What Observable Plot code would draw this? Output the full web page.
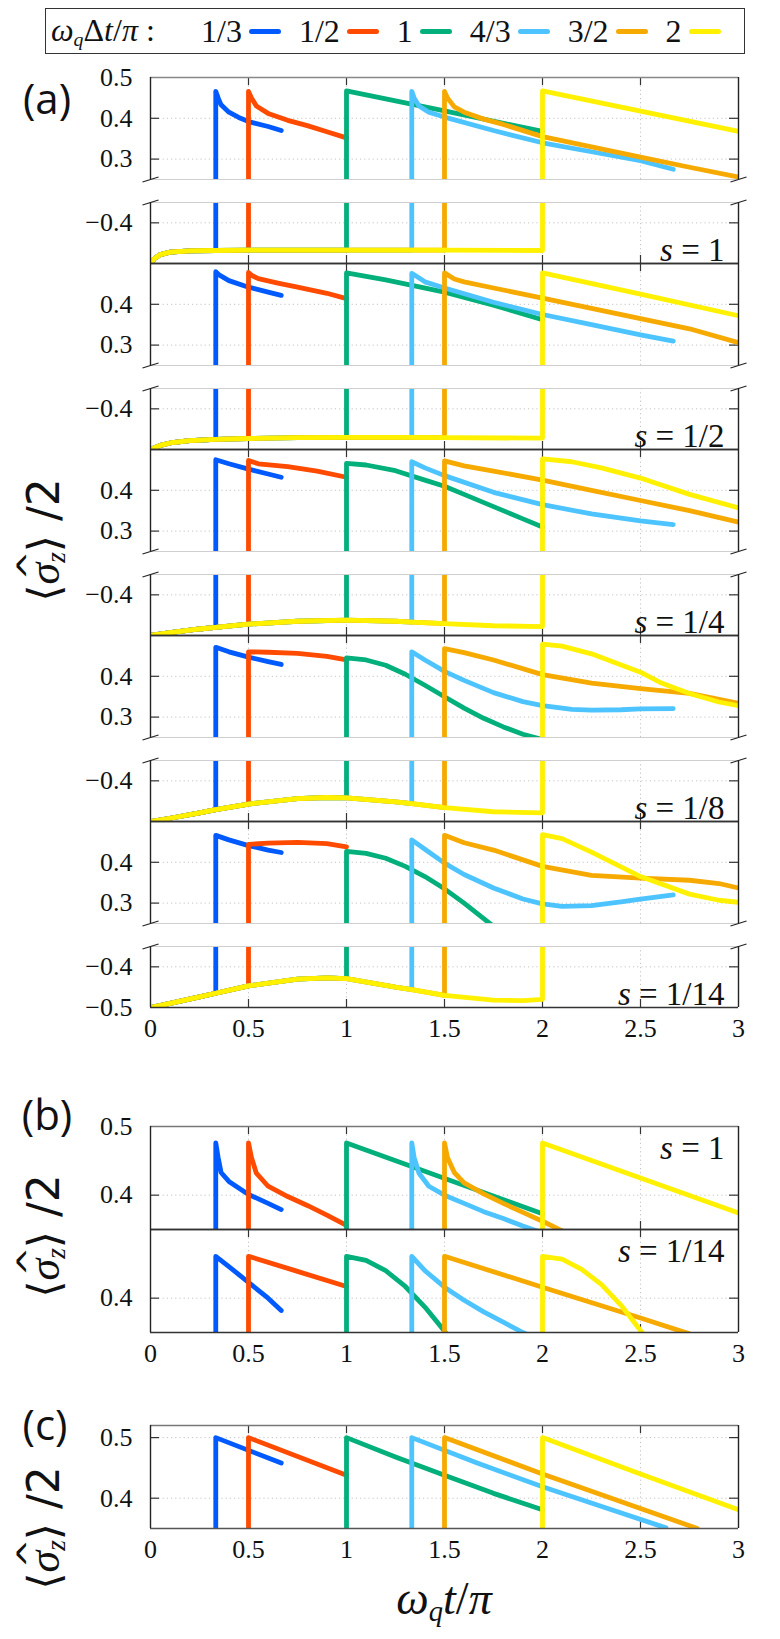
<!DOCTYPE html>
<html><head><meta charset="utf-8">
<script src="https://cdn.jsdelivr.net/npm/d3@7"></script>
<script src="https://cdn.jsdelivr.net/npm/@observablehq/plot@0.6"></script>
<style>
body{margin:0;background:#fff;}
#root{position:relative;width:780px;height:1639px;overflow:hidden;font-family:"Liberation Serif",serif;color:#111;}
.plt{position:absolute;left:0;width:780px;}
.plt svg{overflow:visible;}
.legend{position:absolute;left:45px;top:8px;width:700px;height:46px;box-sizing:border-box;border:1.5px solid #333;display:flex;align-items:center;font-size:32px;white-space:nowrap;}
.legend .head{width:155px;padding-left:5px;box-sizing:border-box;}
.sw{display:inline-block;width:32px;height:5px;border-radius:3px;margin:0 18px 0 7px;}
.tag{position:absolute;font-family:"Open Sans",sans-serif;font-size:42px;transform:translate(-50%,-50%);}
.ylab{position:absolute;font-family:"DejaVu Sans",sans-serif;font-size:44px;transform:translate(-50%,-50%) rotate(-90deg);white-space:nowrap;}
.ylab .m{font-family:"Liberation Serif",serif;font-style:italic;}
.hat{position:relative;display:inline-block;}
.hat .h{position:absolute;left:0.12em;top:-0.28em;font-style:normal;font-family:"DejaVu Sans",sans-serif;font-size:0.8em;}
.xlab{position:absolute;font-size:46px;transform:translate(-50%,-50%);white-space:nowrap;}
sub{font-size:0.62em;vertical-align:-0.25em;}
</style></head><body><div id="root"></div>
<script>
// ---------- data ----------
const xTicks = [0, 0.5, 1, 1.5, 2, 2.5, 3];
const xTickLabels = ["0", "0.5", "1", "1.5", "2", "2.5", "3"];
const xGrid = [0.5, 1, 1.5, 2, 2.5];
const deltaLabels = ["1/3", "1/2", "1", "4/3", "3/2", "2"];
const deltas = [1/3, 1/2, 1, 4/3, 3/2, 2];
const colors = ["#005aff", "#ff4b00", "#03af7a", "#4dc4ff", "#f6aa00", "#fff100"];
const sLabelsA = ["1", "1/2", "1/4", "1/8", "1/14"];
const sLabelsB = ["1", "1/14"];

// panel (a), s = 1
const a1Low = [[0,-0.5],[0.02,-0.488],[0.05,-0.478],[0.1,-0.472],[0.2,-0.469],[0.333,-0.468],[0.5,-0.467],[1,-0.467],[1.333,-0.467],[1.5,-0.467],[2,-0.468]];
const a1Up = [
  [[0.333,0.466],[0.345,0.45],[0.36,0.433],[0.4,0.415],[0.45,0.402],[0.5,0.392],[0.6,0.38],[0.667,0.37]],
  [[0.5,0.466],[0.515,0.45],[0.54,0.43],[0.6,0.412],[0.7,0.395],[0.8,0.382],[0.9,0.367],[1,0.352]],
  [[1,0.467],[1.5,0.418],[2,0.368]],
  [[1.333,0.466],[1.345,0.45],[1.37,0.43],[1.42,0.415],[1.5,0.403],[1.75,0.37],[2,0.34],[2.25,0.318],[2.5,0.296],[2.667,0.275]],
  [[1.5,0.466],[1.515,0.45],[1.55,0.428],[1.6,0.415],[1.7,0.398],[1.8,0.385],[2,0.355],[2.25,0.33],[2.5,0.305],[2.75,0.28],[3,0.256]],
  [[2,0.467],[3,0.368]]
];
// s = 1/2
const a2Low = [[0,-0.5],[0.05,-0.49],[0.1,-0.484],[0.2,-0.478],[0.333,-0.475],[0.5,-0.473],[0.75,-0.471],[1,-0.47],[1.333,-0.47],[1.5,-0.471],[2,-0.472]];
const a2Up = [
  [[0.333,0.48],[0.35,0.472],[0.4,0.458],[0.5,0.442],[0.6,0.43],[0.667,0.422]],
  [[0.5,0.478],[0.52,0.47],[0.55,0.463],[0.65,0.452],[0.75,0.442],[0.9,0.427],[1,0.414]],
  [[1,0.477],[1.2,0.46],[1.5,0.43],[1.75,0.398],[2,0.362]],
  [[1.333,0.476],[1.4,0.455],[1.5,0.44],[1.75,0.405],[2,0.375],[2.25,0.35],[2.5,0.325],[2.667,0.31]],
  [[1.5,0.477],[1.55,0.462],[1.6,0.455],[1.75,0.44],[2,0.415],[2.25,0.39],[2.5,0.365],[2.75,0.34],[3,0.306]],
  [[2,0.477],[2.5,0.425],[3,0.372]]
];
// s = 1/4
const a3Low = [[0,-0.5],[0.1,-0.493],[0.25,-0.484],[0.333,-0.48],[0.5,-0.472],[0.75,-0.465],[1,-0.462],[1.25,-0.465],[1.333,-0.467],[1.5,-0.471],[1.75,-0.476],[2,-0.478]];
const a3Up = [
  [[0.333,0.475],[0.4,0.465],[0.5,0.452],[0.6,0.44],[0.667,0.432]],
  [[0.5,0.473],[0.55,0.465],[0.7,0.458],[0.85,0.447],[1,0.432]],
  [[1,0.466],[1.1,0.462],[1.25,0.448],[1.4,0.425],[1.5,0.41],[1.6,0.39],[1.75,0.36],[1.9,0.33],[2,0.31]],
  [[1.333,0.47],[1.4,0.455],[1.5,0.436],[1.75,0.395],[2,0.365],[2.25,0.342],[2.5,0.325],[2.667,0.316]],
  [[1.5,0.472],[1.6,0.46],[1.75,0.447],[2,0.425],[2.25,0.4],[2.5,0.375],[2.75,0.35],[3,0.322]],
  [[2,0.477],[2.15,0.47],[2.3,0.455],[2.5,0.43],[2.75,0.39],[3,0.357]]
];
// s = 1/8
const a4Low = [[0,-0.5],[0.1,-0.492],[0.25,-0.479],[0.333,-0.471],[0.5,-0.457],[0.75,-0.444],[0.9,-0.441],[1,-0.442],[1.25,-0.452],[1.333,-0.456],[1.5,-0.466],[1.75,-0.476],[2,-0.479]];
const a4Up = [
  [[0.333,0.471],[0.4,0.46],[0.5,0.447],[0.6,0.436],[0.667,0.429]],
  [[0.5,0.46],[0.6,0.459],[0.75,0.456],[0.9,0.449],[1,0.44]],
  [[1,0.445],[1.1,0.44],[1.2,0.427],[1.3,0.405],[1.4,0.378],[1.5,0.35],[1.6,0.322],[1.7,0.297],[1.8,0.276],[1.9,0.258],[2,0.245]],
  [[1.333,0.46],[1.4,0.44],[1.5,0.412],[1.6,0.39],[1.75,0.36],[1.9,0.338],[2,0.328],[2.15,0.319],[2.25,0.317],[2.4,0.318],[2.5,0.32],[2.667,0.321]],
  [[1.5,0.468],[1.6,0.458],[1.75,0.44],[2,0.404],[2.25,0.383],[2.5,0.37],[2.75,0.358],[3,0.334]],
  [[2,0.479],[2.1,0.474],[2.25,0.455],[2.5,0.41],[2.6,0.385],[2.75,0.358],[2.9,0.337],[3,0.328]]
];
// s = 1/14
const a5Low = [[0,-0.5],[0.1,-0.49],[0.25,-0.474],[0.333,-0.465],[0.5,-0.447],[0.75,-0.43],[0.9,-0.427],[1,-0.429],[1.25,-0.45],[1.333,-0.456],[1.5,-0.47],[1.75,-0.482],[1.9,-0.483],[2,-0.48]];
const a5Up = [
  [[0.333,0.466],[0.4,0.455],[0.5,0.441],[0.6,0.43],[0.667,0.424]],
  [[0.5,0.444],[0.6,0.447],[0.75,0.449],[0.9,0.446],[1,0.438]],
  [[1,0.427],[1.1,0.422],[1.2,0.41],[1.3,0.39],[1.4,0.365],[1.5,0.335],[1.6,0.3],[1.7,0.262],[1.75,0.243]],
  [[1.333,0.455],[1.4,0.432],[1.5,0.398],[1.6,0.37],[1.75,0.337],[1.9,0.31],[2,0.298],[2.1,0.292],[2.25,0.294],[2.4,0.303],[2.5,0.31],[2.667,0.32]],
  [[1.5,0.466],[1.6,0.448],[1.75,0.43],[2,0.39],[2.25,0.368],[2.5,0.361],[2.75,0.356],[2.9,0.348],[3,0.337]],
  [[2,0.468],[2.1,0.458],[2.25,0.425],[2.5,0.365],[2.75,0.322],[2.9,0.307],[3,0.302]]
];
// panel (b)
const b1Up = [
  [[0.333,0.476],[0.345,0.455],[0.36,0.433],[0.4,0.42],[0.5,0.401],[0.6,0.388],[0.667,0.379]],
  [[0.5,0.476],[0.515,0.455],[0.54,0.432],[0.6,0.413],[0.7,0.398],[0.8,0.385],[0.9,0.371],[1,0.356]],
  [[1,0.476],[2,0.373]],
  [[1.333,0.476],[1.345,0.455],[1.37,0.432],[1.42,0.413],[1.5,0.4],[1.6,0.388],[1.7,0.376],[1.8,0.366],[1.9,0.355],[2,0.345]],
  [[1.5,0.476],[1.515,0.455],[1.55,0.433],[1.6,0.418],[1.7,0.402],[1.8,0.388],[1.9,0.375],[2,0.362],[2.1,0.348]],
  [[2,0.476],[3,0.374]]
];
const b2Up = [
  [[0.333,0.461],[0.4,0.446],[0.5,0.423],[0.6,0.4],[0.667,0.382]],
  [[0.5,0.461],[0.75,0.439],[1,0.417]],
  [[1,0.461],[1.1,0.455],[1.2,0.44],[1.3,0.417],[1.4,0.387],[1.5,0.352],[1.52,0.343]],
  [[1.333,0.461],[1.4,0.44],[1.5,0.416],[1.6,0.397],[1.7,0.38],[1.8,0.365],[1.9,0.35],[2,0.337]],
  [[1.5,0.461],[2,0.416],[2.5,0.371],[2.75,0.348]],
  [[2,0.461],[2.1,0.457],[2.2,0.442],[2.3,0.42],[2.4,0.39],[2.5,0.353],[2.55,0.335]]
];
// panel (c)
const cUp = [
  [[0.333,0.5],[0.667,0.458]],
  [[0.5,0.5],[1,0.438]],
  [[1,0.5],[1.25,0.468],[1.5,0.438],[1.75,0.408],[2,0.381]],
  [[1.333,0.5],[1.667,0.458],[2,0.419],[2.333,0.383],[2.63,0.351]],
  [[1.5,0.5],[2,0.44],[2.5,0.383],[2.79,0.35]],
  [[2,0.5],[2.5,0.44],[3,0.381]]
];
const initialValue = -0.5;

// ---------- helpers ----------
function build(low, ups) {
  return ups.map((up, i) => {
    const d = deltas[i];
    const pre = low ? low.filter(p => p[0] <= d + 0.004) : [[d, initialValue]];
    return pre.concat(up);
  });
}
const fmtY = d => (d < 0 ? "\u2212" : "") + Math.abs(d).toFixed(1);
const SERIF = "Liberation Serif";
const root = document.getElementById("root");

function sub(o) {
  const mt = 14, mb = o.xAxis ? 46 : 14;
  const [y0, y1] = o.dom;
  const uy = (y1 - y0) / o.h, ux = 3 / 588;
  const tick = {stroke: "#333", strokeWidth: 1.2};
  const marks = [
    Plot.ruleY(o.grid, {stroke: "#c4c4c4", strokeDasharray: "1.2,3"}),
    Plot.ruleX(xGrid, {stroke: "#c4c4c4", strokeDasharray: "1.2,3"}),
    Plot.ruleY(o.grid, {x1: 0, x2: 9 * ux, ...tick}),
    Plot.ruleY(o.grid, {x1: 3 - 9 * ux, x2: 3, ...tick}),
    Plot.axisY(o.labels, {anchor: "left", tickSize: 0, tickPadding: 18, tickFormat: fmtY,
      fontSize: 26, fontFamily: SERIF, fill: "#111", label: null})
  ];
  if (o.xAxis) marks.push(Plot.axisX(xTicks, {anchor: "bottom", tickSize: 0, tickPadding: 11,
      tickFormat: d => xTickLabels[xTicks.indexOf(d)], fontSize: 26, fontFamily: SERIF, fill: "#111", label: null}));
  if (o.tickTop) marks.push(Plot.ruleX(xGrid, {y1: y1, y2: y1 - 8 * uy, ...tick}));
  if (o.tickBottom) marks.push(Plot.ruleX(xGrid, {y1: y0, y2: y0 + 8 * uy, ...tick}));
  o.series.forEach((s, i) => marks.push(Plot.line(s, {
    x: d => d[0], y: d => d[1], stroke: colors[i], strokeWidth: 4.8,
    strokeLinejoin: "round", strokeLinecap: "round", clip: true
  })));
  marks.push(Plot.ruleY([y1], {stroke: o.topStroke, strokeWidth: o.topW}));
  marks.push(Plot.ruleY([y0], {stroke: o.botStroke, strokeWidth: o.botW}));
  marks.push(Plot.ruleX([0, 3], {stroke: "#222", strokeWidth: 1.4}));
  if (o.breakAt != null) marks.push(Plot.link([0, 3], {
    x1: d => d - 8 * ux, x2: d => d + 8 * ux,
    y1: o.breakAt - 2.5 * uy, y2: o.breakAt + 2.5 * uy, stroke: "#222", strokeWidth: 1.2
  }));
  if (o.sText) {
    const top = o.sAnchor === "top-right";
    marks.push(Plot.text([o.sText], {
      text: d => d, frameAnchor: o.sAnchor, textAnchor: "end",
      lineAnchor: top ? "top" : "bottom", dx: -14, dy: top ? 9 : -3,
      fontSize: 33, fontFamily: SERIF, fill: "#111"
    }));
  }
  const svg = Plot.plot({
    width: 780, height: o.h + mt + mb,
    marginLeft: 150, marginRight: 42, marginTop: mt, marginBottom: mb,
    style: {background: "transparent", overflow: "visible", fontFamily: SERIF + ", serif", color: "#111"},
    x: {domain: [0, 3], axis: null},
    y: {domain: o.dom, axis: null},
    marks
  });
  d3.select(svg).selectAll("text").filter(function () { return this.textContent.startsWith("s = "); })
    .each(function () {
      const rest = this.textContent.slice(1);
      this.textContent = "";
      d3.select(this).append("tspan").attr("font-style", "italic").text("s");
      d3.select(this).append("tspan").text(rest);
    });
  const div = document.createElement("div");
  div.className = "plt";
  div.style.top = (o.top - mt) + "px";
  div.appendChild(svg);
  root.appendChild(div);
}

// ---------- panel (a) ----------
const lowsA = [a1Low, a2Low, a3Low, a4Low, a5Low];
const upsA = [a1Up, a2Up, a3Up, a4Up, a5Up];
for (let i = 0; i < 5; i++) {
  const series = build(lowsA[i], upsA[i]);
  const upTop = 77 + 186 * i;
  sub({top: upTop, h: 102, dom: [0.25, 0.5], labels: i === 0 ? [0.3, 0.4, 0.5] : [0.3, 0.4], grid: [0.3, 0.4],
       series, tickTop: true, tickBottom: false, topStroke: i === 0 ? "#888" : "#333", topW: 1.5,
       botStroke: "#cfcfcf", botW: 1.2, breakAt: 0.25});
  sub({top: upTop + 125, h: 61, dom: [-0.5, -0.35], labels: i === 4 ? [-0.5, -0.4] : [-0.4], grid: [-0.4],
       series, tickTop: false, tickBottom: true, topStroke: "#cfcfcf", topW: 1.2,
       botStroke: "#333", botW: 1.5, breakAt: -0.35, xAxis: i === 4,
       sText: "s = " + sLabelsA[i], sAnchor: "bottom-right"});
}
// ---------- panel (b) ----------
sub({top: 1126, h: 103, dom: [0.35, 0.5], labels: [0.4, 0.5], grid: [0.4], series: build(null, b1Up),
     tickTop: true, tickBottom: true, topStroke: "#777", topW: 1.5, botStroke: "#333", botW: 1.5,
     sText: "s = " + sLabelsB[0], sAnchor: "top-right"});
sub({top: 1229, h: 103, dom: [0.35, 0.5], labels: [0.4], grid: [0.4], series: build(null, b2Up),
     tickTop: true, tickBottom: true, topStroke: "#333", topW: 1.5, botStroke: "#333", botW: 1.5, xAxis: true,
     sText: "s = " + sLabelsB[1], sAnchor: "top-right"});
// ---------- panel (c) ----------
sub({top: 1425, h: 103, dom: [0.35, 0.52], labels: [0.4, 0.5], grid: [0.4, 0.5], series: build(null, cUp),
     tickTop: true, tickBottom: true, topStroke: "#777", topW: 1.5, botStroke: "#555", botW: 1.5, xAxis: true});

// ---------- legend and labels ----------
const legend = document.createElement("div");
legend.className = "legend";
legend.innerHTML = '<span class="head"><i>ω</i><sub><i>q</i></sub>Δ<i>t</i>/<i>π</i> :</span>' +
  deltaLabels.map((l, i) => `<span>${l}</span><span class="sw" style="background:${colors[i]}"></span>`).join("");
root.appendChild(legend);

function addHTML(cls, html, x, y) {
  const el = document.createElement("div");
  el.className = cls; el.innerHTML = html;
  el.style.left = x + "px"; el.style.top = y + "px";
  root.appendChild(el);
}
const yLabel = '⟨<span class="hat m">σ<span class="h">^</span></span><sub class="m">z</sub>⟩ /2';
addHTML("tag", "(a)", 47, 97);
addHTML("tag", "(b)", 47, 1113);
addHTML("tag", "(c)", 45, 1423);
addHTML("ylab", yLabel, 45, 540);
addHTML("ylab", yLabel, 45, 1236);
addHTML("ylab", yLabel, 45, 1528);
addHTML("xlab", '<i>ω</i><sub><i>q</i></sub><i>t</i>/<i>π</i>', 444, 1600);
</script></body></html>
